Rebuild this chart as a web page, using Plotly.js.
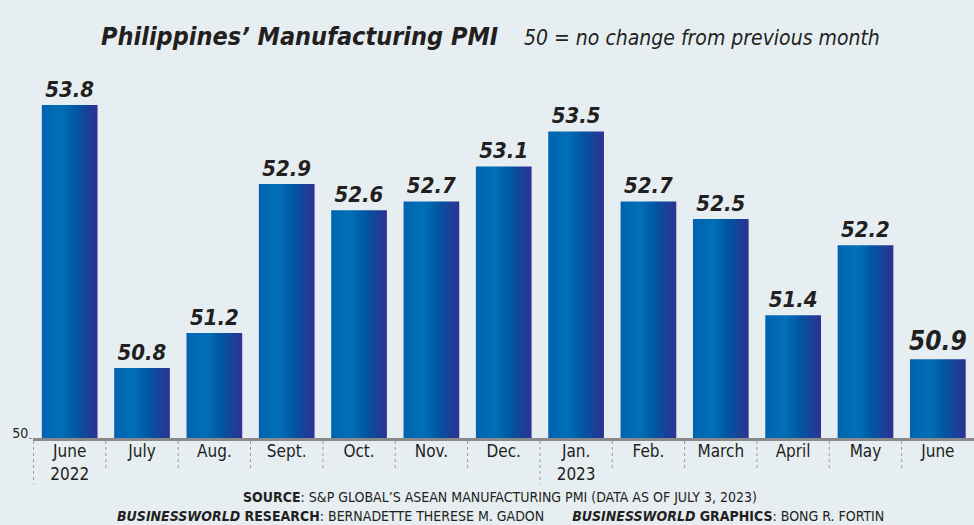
<!DOCTYPE html>
<html>
<head>
<meta charset="utf-8">
<script src="https://cdn.plot.ly/plotly-3.0.1.min.js"></script>
<style>
  html, body { margin: 0; padding: 0; background: #e6eef2; }
  #chart { width: 974px; height: 525px; }
</style>
</head>
<body>
<div id="chart"></div>
<script>
// ---- Data ----
const categories = ['June<br>2022', 'July', 'Aug.', 'Sept.', 'Oct.', 'Nov.', 'Dec.', 'Jan.<br>2023', 'Feb.', 'March', 'April', 'May', 'June'];
const pmiValues = [53.8, 50.8, 51.2, 52.9, 52.6, 52.7, 53.1, 53.5, 52.7, 52.5, 51.4, 52.2, 50.9];
const valueLabels = pmiValues.map(v => v.toFixed(1));
const yearStartIndex = [0, 7];

const titleText = 'Philippines’ Manufacturing PMI';
const subtitleText = '50 = no change from previous month';
const sourceLine1 = '<b>SOURCE</b>: S&P GLOBAL’S ASEAN MANUFACTURING PMI (DATA AS OF JULY 3, 2023)';
const sourceLine2 = '<b><i>BUSINESSWORLD</i> RESEARCH</b>: BERNADETTE THERESE M. GADON &nbsp; &nbsp; &nbsp; <b><i>BUSINESSWORLD</i> GRAPHICS</b>: BONG R. FORTIN';

const NARROW = '"DejaVu Sans Condensed", "Liberation Sans Narrow", sans-serif';
const ink = '#231f20';

const textSizes = pmiValues.map((v, i) => i === pmiValues.length - 1 ? 26 : 22);

const trace = {
  type: 'bar',
  x: categories,
  y: pmiValues,
  text: valueLabels,
  textposition: 'outside',
  cliponaxis: false,
  constraintext: 'none',
  textfont: { family: NARROW, size: textSizes, color: ink, weight: 'bold', style: 'italic' },
  marker: { color: '#0062ac', line: { width: 0 } },
  hoverinfo: 'none'
};

// separators between categories (dotted)
const shapes = categories.map((c, i) => ({
  type: 'line', xref: 'x', yref: 'paper',
  x0: i - 0.5, x1: i - 0.5,
  y0: -0.008, y1: yearStartIndex.includes(i) ? -0.122 : -0.082,
  line: { color: '#9a9a9a', width: 1, dash: 'dot' }
}));

const layout = {
  width: 974, height: 525,
  paper_bgcolor: '#e6eef2', plot_bgcolor: 'rgba(0,0,0,0)',
  margin: { l: 33, r: 0, t: 60, b: 87 },
  bargap: 0.23,
  showlegend: false,
  xaxis: {
    type: 'category',
    showline: true, linecolor: '#8a8a8a', linewidth: 3,
    ticks: '', ticklen: 0, ticklabelstandoff: -4, showgrid: false, zeroline: false,
    tickfont: { family: NARROW, size: 17, color: ink },
    fixedrange: true
  },
  yaxis: {
    range: [50, 54.315],
    tickvals: [50], ticktext: ['50'],
    showgrid: false, zeroline: false, showline: false,
    ticks: 'outside', ticklen: 3, tickcolor: '#8a8a8a',
    ticklabelstandoff: -2, ticklabelshift: -5,
    tickfont: { family: NARROW, size: 14, color: ink },
    fixedrange: true
  },
  shapes: shapes,
  annotations: [
    { xref: 'paper', yref: 'paper', x: 0.4963, y: 1.061, xanchor: 'right', yanchor: 'middle',
      text: '<b><i>' + titleText + '</i></b>', showarrow: false,
      font: { family: NARROW, size: 25, color: ink } },
    { xref: 'paper', yref: 'paper', x: 0.5197, y: 1.058, xanchor: 'left', yanchor: 'middle',
      text: '<i>' + subtitleText + '</i>', showarrow: false,
      font: { family: NARROW, size: 21, color: ink } },
    { xref: 'paper', yref: 'paper', x: 0.4963, y: -0.156, xanchor: 'center', yanchor: 'middle',
      text: sourceLine1, showarrow: false,
      font: { family: NARROW, size: 14, color: ink } },
    { xref: 'paper', yref: 'paper', x: 0.4963, y: -0.206, xanchor: 'center', yanchor: 'middle',
      text: sourceLine2, showarrow: false,
      font: { family: NARROW, size: 14, color: ink } }
  ]
};

Plotly.newPlot('chart', [trace], layout, { staticPlot: true, displayModeBar: false }).then(gd => {
  const svgNS = 'http://www.w3.org/2000/svg';
  const svg = gd.querySelector('svg.main-svg');
  let defs = svg.querySelector('defs');
  if (!defs) { defs = document.createElementNS(svgNS, 'defs'); svg.insertBefore(defs, svg.firstChild); }
  const grad = document.createElementNS(svgNS, 'linearGradient');
  grad.setAttribute('id', 'barGrad');
  grad.setAttribute('x1', '0'); grad.setAttribute('y1', '0');
  grad.setAttribute('x2', '1'); grad.setAttribute('y2', '0');
  [['0%', '#0063ae'], ['35%', '#0070b8'], ['62%', '#0056a1'], ['100%', '#2e3192']].forEach(([o, c]) => {
    const s = document.createElementNS(svgNS, 'stop');
    s.setAttribute('offset', o); s.setAttribute('stop-color', c);
    grad.appendChild(s);
  });
  defs.appendChild(grad);
  gd.querySelectorAll('.barlayer .point path').forEach(p => { p.style.fill = 'url(#barGrad)'; });
});
</script>
</body>
</html>
